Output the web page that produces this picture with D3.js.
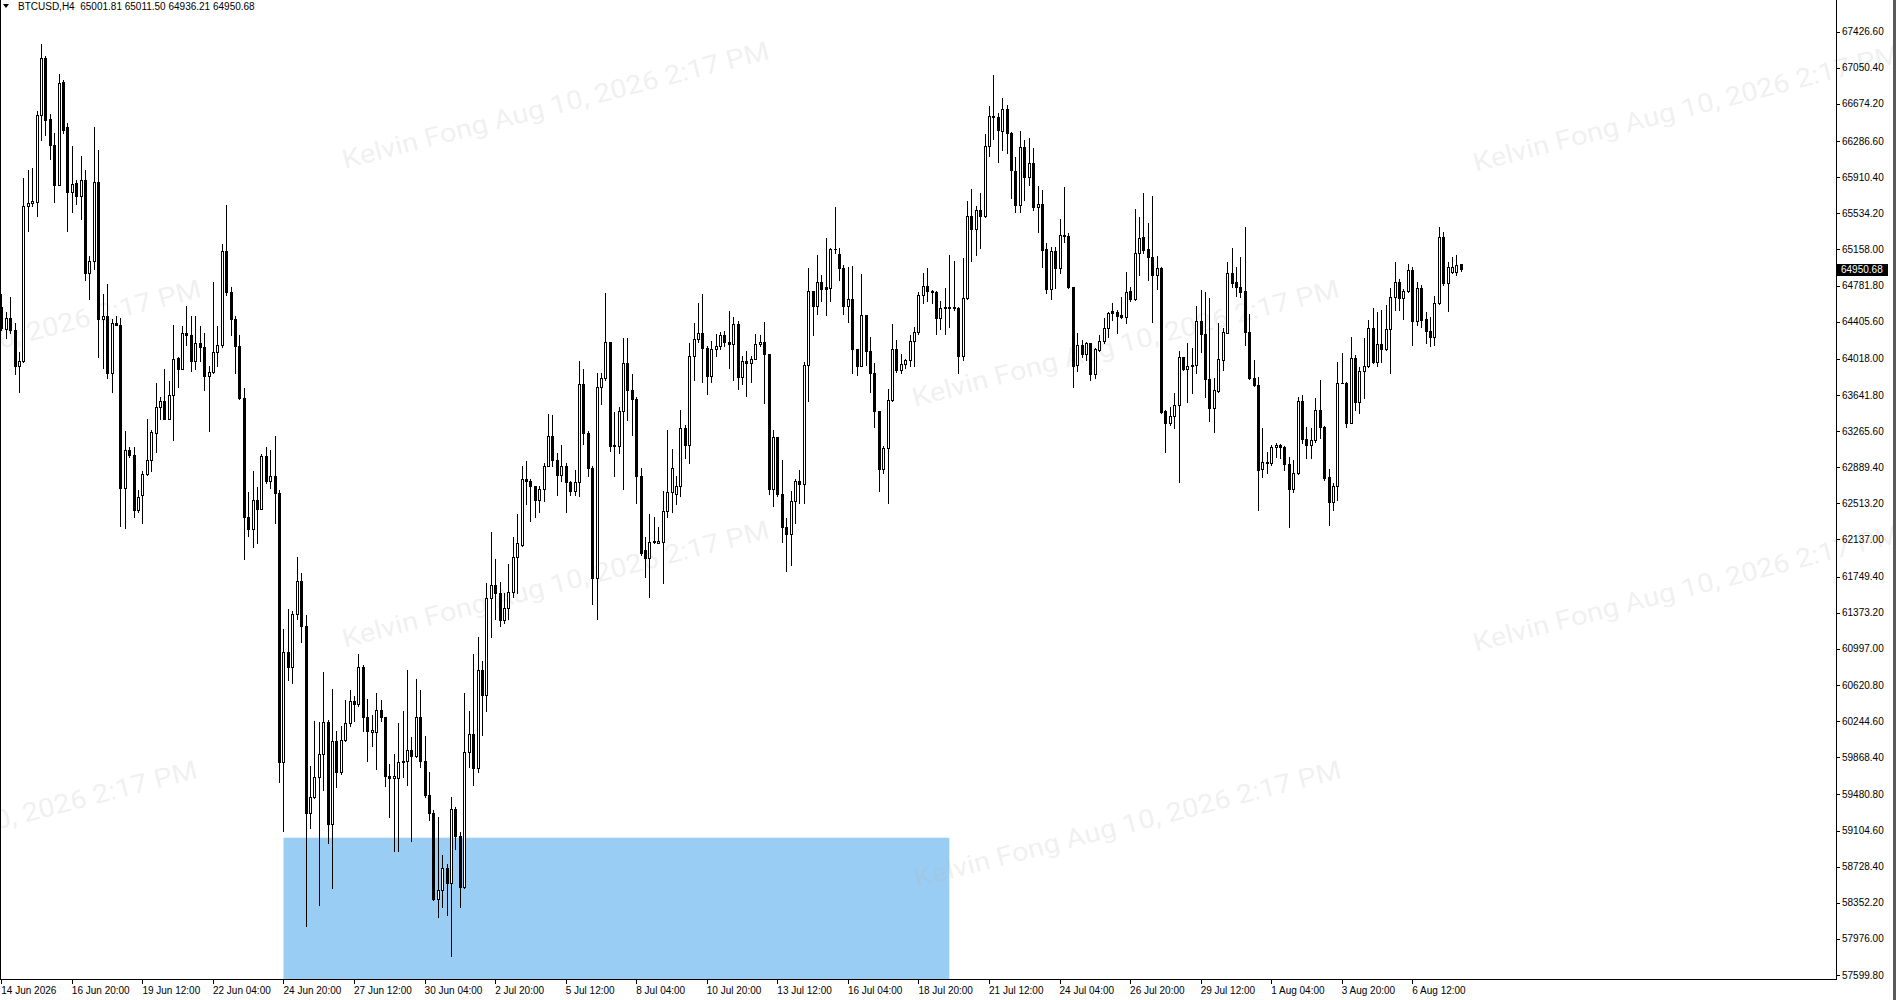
<!DOCTYPE html>
<html><head><meta charset="utf-8">
<script src="https://cdn.jsdelivr.net/npm/d3@7"></script>
<style>html,body{margin:0;padding:0;background:#fff;overflow:hidden}</style>
</head><body>
<svg id="c" width="1896" height="1000"></svg>
<script>
// ---------------- DATA ----------------
const symbolName = "BTCUSD,H4";
const lastQuote = [65001.81, 65011.50, 64936.21, 64950.68];
const open = [64556,64330,64448,64323,63946,64000,65614,65640,65651,66555,67157,66522,66249,65830,66899,66432,65758,65848,65715,65877,
64915,65033,65866,64430,64466,63874,64395,64376,62672,63067,63014,62439,62601,62815,62966,63246,63516,63576,63397,63641,
64029,63910,64287,64269,64000,64186,64143,63838,63885,64090,64161,65137,64710,64430,64150,63613,62368,62242,62547,62457,
63006,62744,62797,62618,59823,60965,60806,61363,61709,61231,59291,59451,59663,59902,60237,59174,60035,59716,60046,60221,
60450,60418,60806,60290,60131,60131,60364,60290,59673,59652,59652,59823,59833,59940,59886,60290,59833,59477,59291,58387,
58483,58717,58557,59333,59051,58520,59918,60115,59758,60779,60514,61523,61667,61576,61300,61427,61586,61959,62081,62772,
62745,62693,62544,62666,62906,63214,62969,62809,62906,62735,62639,62735,63755,63250,62879,61736,63728,63819,64191,63106,
63106,63479,63979,63692,63596,62799,62028,61949,62108,62097,62108,62437,62628,62612,62693,63303,63117,64047,64225,64287,
64136,63838,64119,64154,64262,64197,64172,64377,63831,63993,63975,64018,64172,64197,64064,62665,63204,62611,62271,62198,
62540,62748,62712,63957,64729,64567,64818,64764,64757,65158,65115,64961,64567,64639,64119,63946,64477,64101,63874,63473,
62870,63086,63588,64119,63903,63968,64004,64208,64298,64685,64782,64721,64710,64441,64549,64549,64560,64549,64046,64649,
65510,65367,65571,65510,66235,66551,66535,66396,66618,66374,65980,65621,66229,65917,66056,65604,65631,65159,64742,65145,
64961,65308,65298,64763,63954,64162,64068,64180,63860,64110,64208,64335,64520,64510,64475,64457,64729,64638,65124,65284,
65159,65075,64891,64961,63478,63346,63423,63537,64033,63909,63943,63954,64416,64277,63805,63503,63687,64006,64291,64916,
64822,64770,64729,64301,63815,63745,62868,62937,62937,63097,63122,63097,62923,62659,62825,63583,63180,63122,63173,63486,
63312,62791,62530,62694,63763,63770,63353,64024,63572,63896,63944,64336,63989,64173,64118,64327,64659,64823,64649,64728,
64945,64417,64753,64431,64312,64249,64597,65291,64806,64920,64926,65001.81];
const high = [64699,64502,64663,64395,64090,65901,65991,66009,66601,67294,67173,66565,66367,66985,66924,66475,66231,65884,66135,65984,
65094,66429,66195,64699,64800,64430,64466,64448,63264,63103,63103,62654,62852,63397,63282,63766,63623,63910,63792,64376,
64042,64358,64574,64466,64466,64358,64287,63946,64814,64358,65220,65622,64771,64466,64269,63713,62636,62852,62680,63031,
63103,63067,63218,62648,61204,61417,61391,61959,61788,61353,59780,60247,60237,60752,60258,60577,60142,60194,60460,60566,
60504,60939,60833,60470,60311,60540,60460,60290,59796,59902,60221,60353,60779,60077,60683,60566,60088,59716,59318,59248,
58855,58759,59450,59354,59089,60540,60353,60939,61124,60875,61683,62214,61938,61693,61576,61884,62161,62400,62906,62958,
62772,62693,62693,62931,63447,63436,63038,63118,62931,62745,62863,63995,63915,63266,62905,63872,63872,64702,64191,63463,
63516,64233,64233,63862,63623,62879,62161,62400,62374,62267,62639,63277,63075,62799,63490,63330,64180,64388,64603,64692,
64154,64208,64280,64298,64305,64521,64459,64413,64046,64101,64046,64280,64262,64406,64064,63275,63204,62970,62361,62645,
62762,62863,63982,64968,64729,65105,64890,65273,65176,65596,65176,64997,64979,64986,64119,64901,64477,64244,63975,63473,
63115,63706,64377,64219,64064,64018,64262,64351,64710,64908,64961,64736,64729,64621,64758,65105,65034,64556,65069,65668,
65786,65607,65751,66360,66648,66971,66577,66733,66664,66385,66118,66395,66298,66316,66212,65819,65777,65222,65187,65187,
65472,65805,65326,64770,64284,64214,64197,64187,64128,64266,64440,64510,64596,64527,64659,64927,64763,65575,65499,65743,
65430,65715,65089,64971,63485,63520,63658,64103,64040,64187,64128,64568,64736,64718,64649,63815,64395,64335,65031,65169,
64978,65075,65395,64485,64006,63832,63295,63051,63122,63138,63132,63111,62993,62965,63625,63642,63313,63295,63608,63798,
63318,62868,62721,63989,64076,63781,64249,64058,63937,64232,64424,64545,64510,64528,64580,64753,65031,64848,64742,65007,
64973,64823,64788,64510,64458,64673,65396,65344,65031,65084,65101,65011.50];
const low = [64323,64233,64287,63856,63677,63982,65346,65614,65507,66296,66350,66098,65651,65830,66367,65346,65550,65632,65478,64842,
64645,64950,64035,63927,63820,63677,64366,62278,62260,62996,62367,62421,62313,62808,62852,63049,63390,63390,63390,63175,
63730,63910,64161,63892,63910,64000,63695,63264,63874,63946,64143,64681,64269,63874,63605,61937,62170,62063,62099,62450,
62726,62672,62313,59610,59105,60672,60646,61310,61071,58110,59132,59440,58334,59530,58972,58505,59556,59689,60035,60194,
60247,60407,60142,59833,59981,59742,60247,59567,59248,58892,58892,59663,59583,58999,59875,59769,59450,59211,58377,58202,
58308,58228,57802,58909,58308,58505,59769,59583,59716,60099,60353,61125,61310,61231,61267,61310,61534,61576,62066,62506,
62331,62373,62427,62533,62906,62906,62596,62745,62426,62596,62596,62585,63128,62799,61469,61310,63553,63798,63054,62799,
63038,62666,63383,63223,62522,61974,61746,61534,62097,62097,61683,62373,62427,62506,62585,62985,62931,63796,64190,63778,
63652,63778,64046,64119,64154,63920,63796,63706,63760,63634,63778,64018,64154,63562,62611,62485,62593,62109,61804,61876,
62306,62521,62521,63580,64262,64484,64621,64477,64621,65123,64835,64484,64406,63867,63849,63939,63957,63670,63312,62647,
62827,62521,63580,63885,63867,63921,63946,63946,64280,64603,64621,64603,64280,64333,64280,64351,64530,63867,64011,64639,
65034,65105,65176,65500,66128,66307,66072,66194,66159,65691,65552,65552,65674,65830,65570,65343,64978,64701,64638,64752,
64909,65238,64752,63721,63895,64040,64006,63798,63814,64103,64180,64249,64423,64284,64440,64395,64624,64631,64892,65124,
64839,64406,64742,63457,63051,63329,63294,62738,63902,63572,63659,63867,64093,63624,63374,63259,63676,63902,64284,64770,
64673,64666,64162,63805,63735,62443,62791,62825,62912,63000,62982,62861,62270,62635,62819,63145,62982,62982,63156,63191,
62756,62287,62444,62548,63763,63312,63346,63486,63451,63608,63937,63972,63944,63989,64111,63875,64528,64528,64430,64719,
64163,64371,64354,64180,64152,64163,64590,64788,64521,64910,64892,64936.21];
const close = [64340,64448,64323,63946,64000,65614,65640,65660,66555,67157,66511,66249,65830,66888,66403,65758,65841,65715,65877,64915,
65033,65866,64430,64466,63874,64395,64369,62672,63067,63014,62439,62583,62815,62966,63253,63516,63576,63397,63641,64018,
63910,64287,64269,64000,64179,64143,63838,63885,64090,64161,65137,64710,64430,64150,63613,62368,62242,62547,62457,63006,
62744,62797,62618,59823,60965,60806,61363,61709,61231,59291,59451,59663,59902,60237,59174,60035,59716,60046,60221,60450,
60418,60806,60290,60142,60151,60364,60290,59673,59652,59673,59823,59833,59940,59886,60290,59833,59477,59291,58387,58483,
58717,58557,59333,59051,58520,59918,60115,59758,60779,60514,61523,61667,61576,61300,61427,61586,61959,62097,62772,62745,
62693,62544,62666,62906,63214,62969,62809,62906,62735,62639,62735,63755,63250,62879,61736,63728,63819,64191,63106,63117,
63479,63979,63692,63596,62799,62001,61949,62108,62118,62118,62437,62628,62879,62693,63303,63117,64047,64225,64287,64136,
63838,64119,64154,64262,64197,64172,64377,63831,63993,63975,64018,64172,64197,64064,62665,63204,62611,62271,62198,62540,
62748,62712,63957,64729,64567,64818,64746,64746,65158,65165,64961,64567,64639,64119,63946,64477,64101,63874,63473,62870,
63086,63588,64119,63903,63968,64004,64208,64298,64685,64782,64721,64710,64441,64549,64556,64560,64549,64046,64649,65510,
65367,65571,65510,66235,66551,66540,66403,66618,66374,65987,65621,66229,65917,66056,65604,65631,65152,64742,65145,64961,
65308,65298,64763,63943,64162,64068,64180,63860,64118,64208,64335,64499,64499,64464,64457,64718,64638,65124,65273,65152,
65075,64891,64961,63468,63346,63423,63537,64033,63909,63943,63954,64416,64277,63805,63503,63694,64013,64301,64916,64812,
64763,64718,64301,63815,63745,62860,62947,62947,63097,63122,63097,62923,62659,62833,63583,63180,63122,63173,63486,63312,
62774,62530,62694,63763,63770,63353,64024,63572,63896,63944,64336,63989,64173,64118,64327,64659,64823,64649,64728,64945,
64417,64753,64424,64312,64242,64597,65291,64806,64972,64972,64996,64950.68];
const priceTicks = [67426.60,67050.40,66674.20,66286.60,65910.40,65534.20,65158.00,64781.80,64405.60,64018.00,63641.80,63265.60,62889.40,
62513.20,62137.00,61749.40,61373.20,60997.00,60620.80,60244.60,59868.40,59480.80,59104.60,58728.40,58352.20,57976.00,57599.80];
const timeTickLabels = ["14 Jun 2026","16 Jun 20:00","19 Jun 12:00","22 Jun 04:00","24 Jun 20:00","27 Jun 12:00","30 Jun 04:00",
"2 Jul 20:00","5 Jul 12:00","8 Jul 04:00","10 Jul 20:00","13 Jul 12:00","16 Jul 04:00","18 Jul 20:00","21 Jul 12:00",
"24 Jul 04:00","26 Jul 20:00","29 Jul 12:00","1 Aug 04:00","3 Aug 20:00","6 Aug 12:00"];
const barsPerTimeTick = 16;
const zoneBars = [64, 215];          // first / last bar index covered by the zone
const zonePrices = [59030, 57000];   // top / bottom price of the zone
const watermarkText = "Kelvin Fong Aug 10, 2026 2:17 PM";

// ---------------- LAYOUT ----------------
const W = 1896, H = 1000;
const plotRight = 1836, plotBottom = 979;
const font = "'Liberation Sans', Arial, sans-serif";
const svg = d3.select("#c");

const x = d3.scaleLinear().domain([0, close.length - 1]).range([1.3, 1460.8]);
const y = d3.scaleLinear().domain([57599.8, 67426.6]).range([975, 31.7]);

svg.append("rect").attr("width", W).attr("height", H).attr("fill", "#ffffff");

svg.append("clipPath").attr("id", "plotclip").append("rect")
  .attr("x", 0).attr("y", 0).attr("width", plotRight).attr("height", plotBottom);

// zone rectangle
svg.append("rect")
  .attr("clip-path", "url(#plotclip)")
  .attr("x", x(zoneBars[0])).attr("width", x(zoneBars[1]) - x(zoneBars[0]))
  .attr("y", y(zonePrices[0])).attr("height", y(zonePrices[1]) - y(zonePrices[0]))
  .attr("fill", "#9acdf3");

// watermark (semi-transparent overlay)
const wmPos = [[556,107],[1687,110],[-12,345],[1126,345],[556,586],[1687,590],[-16,826],[1128,826]];
svg.append("g").selectAll("text").data(wmPos).join("text")
  .attr("transform", d => `translate(${d[0]},${d[1]}) rotate(-14.5)`)
  .attr("text-anchor", "middle").attr("dominant-baseline", "middle")
  .attr("font-family", "Roboto, 'Open Sans', sans-serif").attr("font-size", 26)
  .attr("textLength", 440).attr("lengthAdjust", "spacingAndGlyphs")
  .attr("fill", "#b4b4b4").attr("fill-opacity", 0.2).text(watermarkText);

// candles
const bars = close.map((c, i) => ({i, o: open[i], h: high[i], l: low[i], c}));
const cg = svg.append("g").attr("shape-rendering", "crispEdges").attr("clip-path", "url(#plotclip)");
const cand = cg.selectAll("g").data(bars).join("g");
cand.append("line")
  .attr("x1", d => Math.round(x(d.i)) + 0.5).attr("x2", d => Math.round(x(d.i)) + 0.5)
  .attr("y1", d => Math.round(y(d.h))).attr("y2", d => Math.round(y(d.l)) + 1)
  .attr("stroke", "#000").attr("stroke-width", 1);
cand.each(function(d) {
  const g = d3.select(this);
  const cx = Math.round(x(d.i));
  const yt = Math.round(y(Math.max(d.o, d.c)));
  const yb = Math.round(y(Math.min(d.o, d.c)));
  if (d.c >= d.o) {
    if (yb - yt < 2) {
      g.append("rect").attr("x", cx - 1).attr("width", 3).attr("y", yt).attr("height", Math.max(1, yb - yt + 1)).attr("fill", "#000");
    } else {
      g.append("rect").attr("x", cx - 0.5).attr("width", 2).attr("y", yt + 0.5).attr("height", yb - yt)
        .attr("fill", "#fff").attr("stroke", "#000").attr("stroke-width", 1);
    }
  } else {
    g.append("rect").attr("x", cx - 1).attr("width", 3).attr("y", yt).attr("height", Math.max(1, yb - yt + 1)).attr("fill", "#000");
  }
});

// frame
const fr = svg.append("g").attr("shape-rendering", "crispEdges").attr("stroke", "#000").attr("stroke-width", 1);
fr.append("line").attr("x1", 0.5).attr("x2", 0.5).attr("y1", 0).attr("y2", plotBottom + 0.5);
fr.append("line").attr("x1", 0).attr("x2", plotRight + 0.5).attr("y1", plotBottom + 0.5).attr("y2", plotBottom + 0.5);
fr.append("line").attr("x1", plotRight + 0.5).attr("x2", plotRight + 0.5).attr("y1", 0).attr("y2", plotBottom + 0.5);
svg.append("rect").attr("x", 1893).attr("y", 0).attr("width", 3).attr("height", H).attr("fill", "#5a5a5a");

// price axis
const ya = svg.append("g");
ya.selectAll("line").data(priceTicks).join("line")
  .attr("shape-rendering", "crispEdges")
  .attr("x1", plotRight).attr("x2", plotRight + 4)
  .attr("y1", d => Math.round(y(d)) + 0.5).attr("y2", d => Math.round(y(d)) + 0.5)
  .attr("stroke", "#000");
ya.selectAll("text").data(priceTicks).join("text")
  .attr("x", plotRight + 6).attr("y", d => y(d) + 3.5)
  .attr("font-family", font).attr("font-size", 10).attr("fill", "#000")
  .text(d => d.toFixed(2));

// current price marker
const lastClose = close[close.length - 1];
const ly = y(lastClose);
svg.append("rect").attr("x", plotRight + 1).attr("y", Math.round(ly) - 5).attr("width", 51).attr("height", 12).attr("fill", "#000");
svg.append("text").attr("x", plotRight + 5).attr("y", ly + 4)
  .attr("font-family", font).attr("font-size", 10).attr("fill", "#fff").text(lastClose.toFixed(2));

// time axis
const tIdx = timeTickLabels.map((_, k) => k * barsPerTimeTick);
const xa = svg.append("g");
xa.selectAll("line").data(tIdx).join("line")
  .attr("shape-rendering", "crispEdges")
  .attr("x1", d => Math.round(x(d)) + 0.5).attr("x2", d => Math.round(x(d)) + 0.5)
  .attr("y1", plotBottom).attr("y2", plotBottom + 5)
  .attr("stroke", "#000");
xa.selectAll("text").data(tIdx).join("text")
  .attr("x", d => x(d)).attr("y", plotBottom + 15)
  .attr("font-family", font).attr("font-size", 10).attr("fill", "#000")
  .text((d, k) => timeTickLabels[k]);

// header
svg.append("path").attr("d", "M3,4 L9,4 L6,8 Z").attr("fill", "#000");
svg.append("text").attr("x", 18).attr("y", 10)
  .attr("font-family", font).attr("font-size", 10).attr("fill", "#000")
  .attr("xml:space", "preserve")
  .text(symbolName + "  " + lastQuote.map(v => v.toFixed(2)).join(" "));
</script>
</body></html>
